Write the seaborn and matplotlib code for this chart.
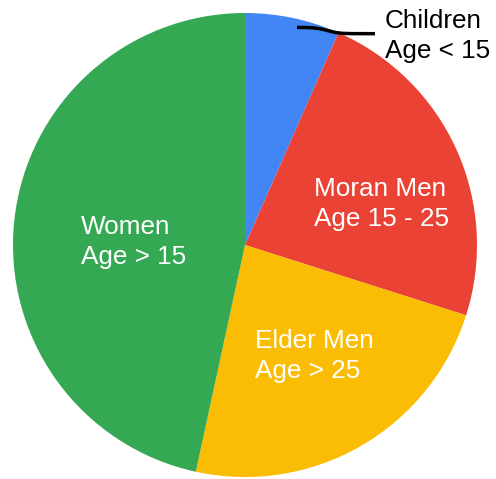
import matplotlib
matplotlib.use("Agg")
import matplotlib.pyplot as plt
import seaborn as sns

sns.set_theme(style="white")
plt.rcParams['font.family'] = ['Liberation Sans', 'DejaVu Sans']

groups = ["Children", "Moran Men", "Elder Men", "Women"]
sublabels = ["Age < 15", "Age 15 - 25", "Age > 25", "Age > 15"]
shares = [6.6, 23.3, 23.5, 46.6]
colors = ["#4285F4", "#EA4335", "#FBBC04", "#34A853"]

W, H = 496, 479
fig = plt.figure(figsize=(W / 100, H / 100), dpi=100)
ax = fig.add_axes([0, 0, 1, 1])

cx, cy, r = 245, H - 245, 232
ax.pie(shares, colors=colors, startangle=90, counterclock=False,
       center=(cx, cy), radius=r, frame=True,
       wedgeprops=dict(linewidth=0, antialiased=True))
ax.set_xlim(0, W)
ax.set_ylim(0, H)
ax.set_aspect('auto')
ax.axis('off')

fs = 18.8
# label positions (left x, baseline y of first line in pixel coords from top)
pos = {"Children": (385, 28, "black"),
       "Moran Men": (314, 196, "white"),
       "Elder Men": (255, 348, "white"),
       "Women": (81, 234, "white")}
for g, s in zip(groups, sublabels):
    x, y, c = pos[g]
    ax.text(x, H - y, g, fontsize=fs, color=c, ha='left', va='baseline')
    ax.text(x, H - (y + 30), s, fontsize=fs, color=c, ha='left', va='baseline')

# leader line for Children
lx = [297, 305, 312, 318, 324, 330, 336, 342, 350, 375]
ly = [27.4, 27.5, 27.8, 28.4, 29.6, 31.2, 32.6, 33.3, 33.6, 33.7]
ax.plot(lx, [H - v for v in ly], color='black', lw=2.5, solid_capstyle='butt',
        solid_joinstyle='round')

fig.savefig("out.png", dpi=100)
